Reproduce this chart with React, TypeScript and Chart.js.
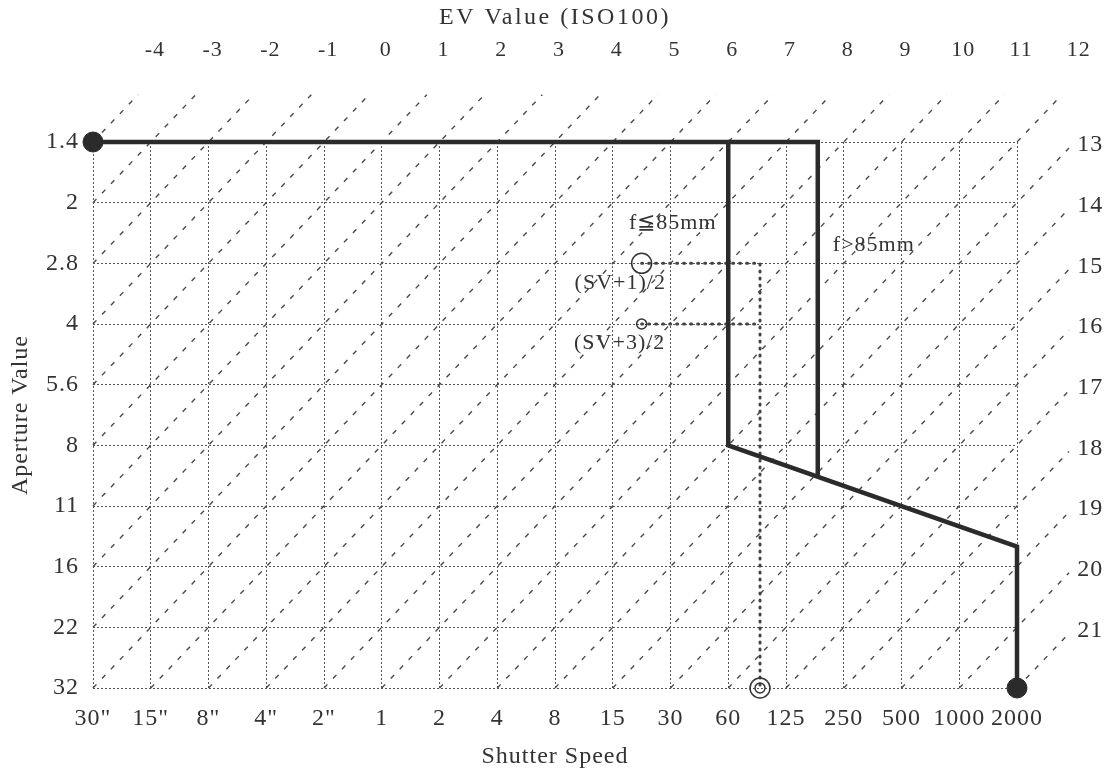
import { useEffect, useRef } from 'react';
import { Chart, registerables } from 'chart.js';

Chart.register(...registerables);

// ---- data ----
const shutterLabels = ['30"', '15"', '8"', '4"', '2"', '1', '2', '4', '8', '15', '30', '60', '125', '250', '500', '1000', '2000'];
const apertureLabels = ['1.4', '2', '2.8', '4', '5.6', '8', '11', '16', '22', '32'];
const evTopLabels = [-4, -3, -2, -1, 0, 1, 2, 3, 4, 5, 6, 7, 8, 9, 10, 11, 12];
const evRightLabels = [13, 14, 15, 16, 17, 18, 19, 20, 21];
const evValues = [...evTopLabels, ...evRightLabels];

// program lines, in (shutter index, aperture index)
const programShortX = [0, 11, 11, 16, 16];
const programShortY = [0, 0, 5, 6.67, 9];
const programLongX = [11, 12.55, 12.55];
const programLongY = [0, 0, 5.5];
const guideX = [9.5, 11.55, 11.55];
const guideY = [2, 2, 9];
const guide2X = [9.5, 11.55];
const guide2Y = [3, 3];
const endPointsX = [0, 16];
const endPointsY = [0, 9];
const openCirclesX = [9.5, 9.5];
const openCirclesY = [2, 3];
const targetX = [11.55];
const targetY = [9];

const notes = [
  { text: 'f≦85mm', x: 10.04, y: 1.34 },
  { text: 'f>85mm', x: 13.52, y: 1.7 },
  { text: '(SV+1)/2', x: 9.13, y: 2.33 },
  { text: '(SV+3)/2', x: 9.12, y: 3.32 },
];

const topTitle = 'EV Value (ISO100)';

const FONT = "'Liberation Serif', 'DejaVu Serif', serif";
const INK = '#333';

const zip = (xs: number[], ys: number[]) => xs.map((x, i) => ({ x, y: ys[i] }));

function evLine(ev: number) {
  const s = ev + 4;
  const rowStart = Math.min(9, s);
  const colStart = s - rowStart;
  const rowEnd = Math.max(0, s - 16);
  const colEnd = s - rowEnd;
  const ext = s <= 16 ? 0.78 : 0.9;
  return [
    { x: colStart, y: rowStart },
    { x: colEnd + ext, y: rowEnd - ext },
  ];
}

const spacingPlugin = {
  id: 'letterSpacing',
  beforeDraw(chart: any) {
    (chart.ctx as any).letterSpacing = '1px';
  },
};

const overlayPlugin = {
  id: 'overlayText',
  afterDatasetsDraw(chart: any) {
    const { ctx, scales, chartArea } = chart;
    const xs = scales.x;
    const ys = scales.y;
    ctx.save();
    ctx.fillStyle = INK;
    ctx.textAlign = 'center';
    ctx.textBaseline = 'middle';
    // top title
    ctx.font = `24px ${FONT}`;
    (ctx as any).letterSpacing = '2.5px';
    ctx.fillText(topTitle, (chartArea.left + chartArea.right) / 2, 18);
    (ctx as any).letterSpacing = '1px';
    // top EV labels
    ctx.font = `22px ${FONT}`;
    evTopLabels.forEach((ev) => {
      const col = ev + 4;
      ctx.fillText(String(ev), xs.getPixelForValue(col + 1.07), ys.getPixelForValue(-1.52));
    });
    // right EV labels
    ctx.font = `24px ${FONT}`;
    evRightLabels.forEach((ev) => {
      const row = ev - 13;
      ctx.fillText(String(ev), xs.getPixelForValue(17.27), ys.getPixelForValue(row + 0.05));
    });
    // annotations
    ctx.font = `22px ${FONT}`;
    notes.forEach((n) => {
      ctx.fillText(n.text, xs.getPixelForValue(n.x), ys.getPixelForValue(n.y));
    });
    ctx.restore();
  },
};

export default function App() {
  const ref = useRef<HTMLCanvasElement>(null);

  useEffect(() => {
    if (!ref.current) return;
    const diagonals = evValues.map((ev) => ({
      type: 'line' as const,
      data: evLine(ev),
      borderColor: '#4a4a4a',
      borderWidth: 1.4,
      borderDash: [5, 8],
      pointRadius: 0,
      fill: false,
      clip: false as any,
      order: 10,
    }));

    const chart = new Chart(ref.current, {
      type: 'line',
      data: {
        datasets: [
          {
            data: zip(endPointsX, endPointsY),
            showLine: false,
            pointRadius: 10,
            pointBackgroundColor: '#2b2b2b',
            pointBorderColor: '#2b2b2b',
            clip: false as any,
            order: 0,
          },
          {
            data: zip(programShortX, programShortY),
            borderColor: '#2b2b2b',
            borderWidth: 4.5,
            pointRadius: 0,
            clip: false as any,
            order: 1,
          },
          {
            data: zip(programLongX, programLongY),
            borderColor: '#2b2b2b',
            borderWidth: 4.5,
            pointRadius: 0,
            clip: false as any,
            order: 1,
          },
          {
            data: zip(guideX, guideY),
            borderColor: '#444',
            borderWidth: 3,
            borderDash: [1, 6],
            borderCapStyle: 'round',
            pointRadius: 0,
            clip: false as any,
            order: 2,
          },
          {
            data: zip(guide2X, guide2Y),
            borderColor: '#444',
            borderWidth: 3,
            borderDash: [1, 6],
            borderCapStyle: 'round',
            pointRadius: 0,
            clip: false as any,
            order: 2,
          },
          {
            data: zip(openCirclesX, openCirclesY),
            showLine: false,
            pointRadius: [10, 5],
            pointBackgroundColor: 'rgba(255,255,255,0)',
            pointBorderColor: '#333',
            pointBorderWidth: 1.5,
            clip: false as any,
            order: 0,
          },
          {
            data: [...zip(targetX, targetY), ...zip(targetX, targetY)],
            showLine: false,
            pointRadius: [10, 5],
            pointBackgroundColor: 'rgba(255,255,255,0)',
            pointBorderColor: '#333',
            pointBorderWidth: 1.5,
            clip: false as any,
            order: 0,
          },
          ...diagonals,
        ] as any,
      },
      options: {
        animation: false,
        responsive: false,
        devicePixelRatio: 1,
        layout: { padding: { left: 0, right: 96, top: 142, bottom: 0 } },
        plugins: {
          legend: { display: false },
          tooltip: { enabled: false },
          title: { display: false },
        },
        scales: {
          x: {
            type: 'linear',
            min: 0,
            max: 16,
            afterFit: (s: any) => { s.height = 83; },
            ticks: {
              stepSize: 1,
              autoSkip: false,
              maxRotation: 0,
              padding: 16,
              color: INK,
              font: { family: FONT, size: 24 },
              callback: (v: any) => shutterLabels[Number(v)] ?? '',
            },
            grid: { color: '#555', lineWidth: 1, drawTicks: false },
            border: { display: false, dash: [2, 2] },
            title: {
              display: true,
              text: 'Shutter Speed',
              color: INK,
              font: { family: FONT, size: 24, lineHeight: 1.2 },
              padding: { top: 0, bottom: 0 },
            },
          },
          y: {
            type: 'linear',
            min: 0,
            max: 9,
            reverse: true,
            afterFit: (s: any) => { s.width = 93; },
            ticks: {
              stepSize: 1,
              autoSkip: false,
              padding: 14,
              color: INK,
              font: { family: FONT, size: 24 },
              callback: (v: any) => apertureLabels[Number(v)] ?? '',
            },
            grid: { color: '#555', lineWidth: 1, drawTicks: false },
            border: { display: false, dash: [2, 2] },
            title: {
              display: true,
              text: 'Aperture Value',
              color: INK,
              font: { family: FONT, size: 24, lineHeight: 1.2 },
              padding: { top: 6, bottom: 0 },
            },
          },
        },
      },
      plugins: [spacingPlugin, overlayPlugin],
    } as any);
    return () => chart.destroy();
  }, []);

  return (
    <div style={{ position: 'absolute', left: 0, top: 0, width: 1113, height: 771, background: '#fff' }}>
      <canvas ref={ref} width={1113} height={771} style={{ display: 'block' }} />
    </div>
  );
}
